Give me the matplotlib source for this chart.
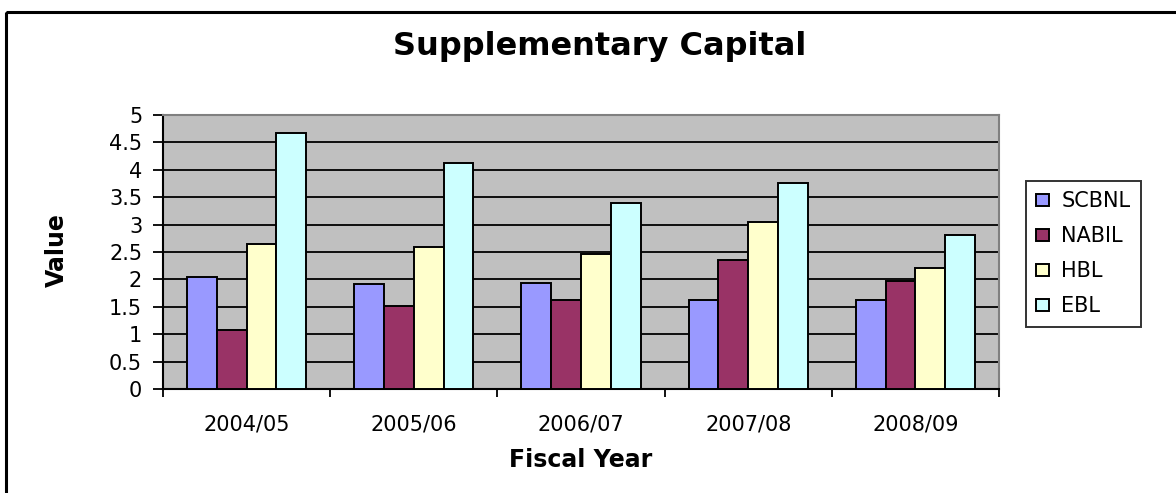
import matplotlib
matplotlib.use("Agg")
import matplotlib.pyplot as plt
import numpy as np
from matplotlib.patches import Rectangle

years = ["2004/05", "2005/06", "2006/07", "2007/08", "2008/09"]
series_names = ["SCBNL", "NABIL", "HBL", "EBL"]
scbnl = [2.05, 1.91, 1.93, 1.63, 1.63]
nabil = [1.08, 1.51, 1.62, 2.36, 1.97]
hbl = [2.65, 2.60, 2.46, 3.05, 2.20]
ebl = [4.67, 4.12, 3.39, 3.76, 2.81]
colors = ["#9999FF", "#993366", "#FFFFCC", "#CCFFFF"]
yticks = [0, 0.5, 1, 1.5, 2, 2.5, 3, 3.5, 4, 4.5, 5]
ytick_labels = ["0", "0.5", "1", "1.5", "2", "2.5", "3", "3.5", "4", "4.5", "5"]

plt.rcParams['font.family'] = ['DejaVu Sans']

W, H = 1176, 493
fig = plt.figure(figsize=(W / 100, H / 100), dpi=100)
fig.patch.set_facecolor("white")

# outer chart border
border = Rectangle((6 / W, 1 - 12 / H), 1.2, -1.2, transform=fig.transFigure,
                   fill=False, edgecolor="black", linewidth=2.2, clip_on=False)
fig.patches.append(border)

ax = fig.add_axes([163 / W, 1 - 389 / H, (999 - 163) / W, (389 - 115) / H])
ax.set_facecolor("#C0C0C0")

x = np.arange(len(years))
bw = 0.178
all_series = [scbnl, nabil, hbl, ebl]
for i, (name, vals, c) in enumerate(zip(series_names, all_series, colors)):
    ax.bar(x + (i - 1.5) * bw, vals, width=bw, color=c, edgecolor="black",
           linewidth=1.4, label=name, zorder=3)

ax.set_xlim(-0.5, len(years) - 0.5)
ax.set_ylim(0, 5)
ax.set_yticks(yticks)
ax.set_yticklabels(ytick_labels)
ax.yaxis.grid(True, color="black", linewidth=1.3, zorder=1)
ax.set_axisbelow(True)

ax.set_xticks(np.arange(len(years) + 1) - 0.5)
ax.set_xticklabels([])
ax.set_xticks(x, minor=True)
ax.set_xticklabels(years, minor=True)
ax.tick_params(axis="x", which="major", direction="out", length=6, width=1.3, color="black")
ax.tick_params(axis="x", which="minor", length=0, pad=18, labelsize=15)
ax.tick_params(axis="y", direction="out", length=7, width=1.3, pad=8, labelsize=15)

for s in ["left", "bottom"]:
    ax.spines[s].set_color("black")
    ax.spines[s].set_linewidth(1.5)
for s in ["top", "right"]:
    ax.spines[s].set_color("#808080")
    ax.spines[s].set_linewidth(1.5)

fig.text(600 / W, 1 - 46 / H, "Supplementary Capital", ha="center", va="center",
         fontsize=23, fontweight="bold")
fig.text(581 / W, 1 - 460 / H, "Fiscal Year", ha="center", va="center",
         fontsize=17, fontweight="bold")
fig.text(57 / W, 1 - 250 / H, "Value", ha="center", va="center", rotation=90,
         fontsize=17, fontweight="bold")

leg = fig.legend(loc="upper left", bbox_to_anchor=(1026 / W, 1 - 181 / H),
                 bbox_transform=fig.transFigure, fontsize=15, frameon=True,
                 fancybox=False, edgecolor="black", handlelength=0.6,
                 handleheight=0.5, handletextpad=0.6, labelspacing=0.72,
                 borderpad=0.5, borderaxespad=0)
leg.get_frame().set_linewidth(1.4)
for p in leg.get_patches():
    p.set_linewidth(1.4)

fig.savefig("out.png", dpi=100)
